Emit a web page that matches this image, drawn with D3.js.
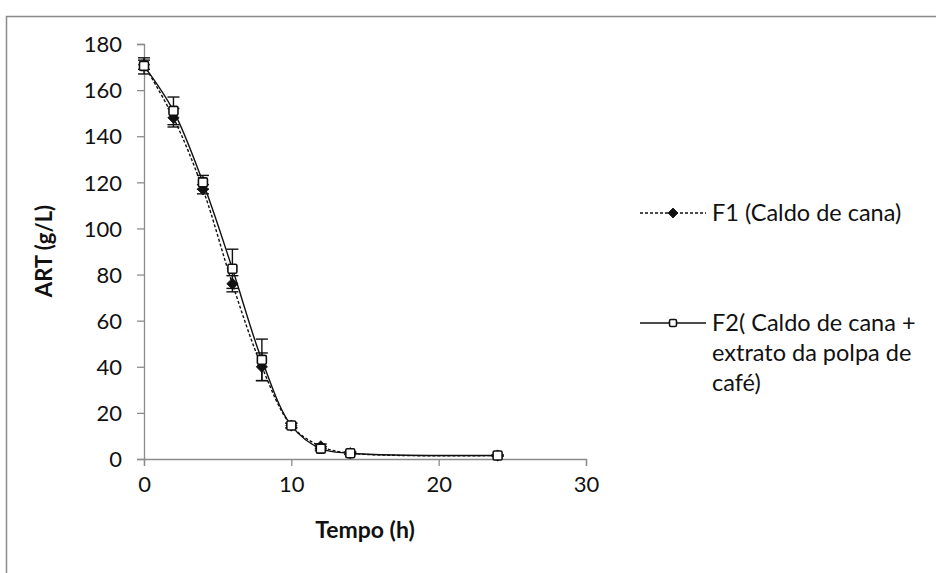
<!DOCTYPE html>
<html>
<head>
<meta charset="utf-8">
<script src="https://cdn.jsdelivr.net/npm/d3@7"></script>
<style>
  html, body { margin: 0; padding: 0; background: #fff; }
  svg { display: block; }
  text { font-family: Lato, "Open Sans", sans-serif; fill: #111; }
</style>
</head>
<body>
<svg id="chart" width="936" height="573"></svg>
<script>
// Time points (h)
const tempo = [0, 2, 4, 6, 8, 10, 12, 14, 24];
// F1: sugarcane juice — ART (g/L) and standard deviation
const f1 = [171, 148, 117, 76, 40, 14.5, 5.5, 2.5, 1.5];
const f1Err = [2, 4, 2, 3.5, 6, 1, 1, 0.5, 0.3];
// F2: sugarcane juice + coffee pulp extract
const f2 = [170.5, 151, 120, 82.5, 43, 14.5, 4.5, 2.5, 1.5];
const f2Err = [3.5, 6, 3, 8.5, 9, 1, 0.8, 0.5, 0.3];

const xTicks = [0, 10, 20, 30];
const yTicks = [0, 20, 40, 60, 80, 100, 120, 140, 160, 180];

const legendF1 = ["F1 (Caldo de cana)"];
const legendF2 = ["F2( Caldo de cana +", "extrato da polpa de", "café)"];
const xTitle = "Tempo (h)";
const yTitle = "ART (g/L)";

const svg = d3.select("#chart");

// outer chart frame
svg.append("rect")
  .attr("x", 6.5).attr("y", 16.5)
  .attr("width", 940).attr("height", 570)
  .attr("fill", "none").attr("stroke", "#8a8a8a").attr("stroke-width", 1.5);

const x = d3.scaleLinear().domain([0, 30]).range([144, 586]);
const y = d3.scaleLinear().domain([0, 180]).range([459, 44]);

const axisColor = "#8c8c8c";

const gx = svg.append("g").attr("transform", `translate(0,${y(0)})`)
  .call(d3.axisBottom(x).tickValues(xTicks).tickSizeOuter(0).tickSize(7).tickPadding(10));
const gy = svg.append("g").attr("transform", `translate(${x(0)},0)`)
  .call(d3.axisLeft(y).tickValues(yTicks).tickSizeOuter(0).tickSize(7).tickPadding(15));

[gx, gy].forEach(g => {
  g.select(".domain").attr("stroke", axisColor).attr("stroke-width", 1.3);
  g.selectAll(".tick line").attr("stroke", axisColor).attr("stroke-width", 1.3);
  g.selectAll(".tick text").attr("font-family", "Lato, sans-serif")
    .attr("font-size", 22).attr("fill", "#111");
});
gy.selectAll(".tick text").attr("dy", "0.35em");

// axis titles
svg.append("text").attr("x", 365).attr("y", 538)
  .attr("text-anchor", "middle").attr("font-weight", "bold").attr("font-size", 23)
  .text(xTitle);
svg.append("text")
  .attr("transform", `translate(52,251) rotate(-90)`)
  .attr("text-anchor", "middle").attr("font-weight", "bold").attr("font-size", 22)
  .text(yTitle);

const series = [
  { vals: f1, err: f1Err, dash: "3,2", marker: "diamond" },
  { vals: f2, err: f2Err, dash: null, marker: "square" }
];

const line = d3.line().curve(d3.curveCatmullRom.alpha(0.5))
  .x(d => x(d[0])).y(d => y(d[1]));

// lines
series.forEach(s => {
  svg.append("path")
    .datum(tempo.map((t, i) => [t, s.vals[i]]))
    .attr("d", line)
    .attr("fill", "none").attr("stroke", "#111").attr("stroke-width", 1.4)
    .attr("stroke-dasharray", s.dash);
});

// error bars
const cap = 6;
series.forEach(s => {
  const g = svg.append("g").attr("stroke", "#111").attr("stroke-width", 1.4);
  tempo.forEach((t, i) => {
    const cx = x(t), hi = y(s.vals[i] + s.err[i]), lo = y(s.vals[i] - s.err[i]);
    g.append("line").attr("x1", cx).attr("x2", cx).attr("y1", hi).attr("y2", lo);
    g.append("line").attr("x1", cx - cap).attr("x2", cx + cap).attr("y1", hi).attr("y2", hi);
    g.append("line").attr("x1", cx - cap).attr("x2", cx + cap).attr("y1", lo).attr("y2", lo);
  });
});

function drawMarker(g, kind, cx, cy, size) {
  if (kind === "diamond") {
    g.append("path")
      .attr("d", d3.symbol(d3.symbolDiamond2).size(size * size)())
      .attr("transform", `translate(${cx},${cy})`)
      .attr("fill", "#111").attr("stroke", "#111").attr("stroke-width", 0.8);
  } else {
    g.append("rect")
      .attr("x", cx - size / 2).attr("y", cy - size / 2)
      .attr("width", size).attr("height", size).attr("rx", 1.5)
      .attr("fill", "#fff").attr("stroke", "#111").attr("stroke-width", 1.6);
  }
}

// markers
series.forEach(s => {
  const g = svg.append("g");
  tempo.forEach((t, i) => drawMarker(g, s.marker, x(t), y(s.vals[i]), 9));
});

// legend
const legX0 = 640, legX1 = 706, legText = 712;
const legRows = [
  { s: series[0], y: 213, lines: legendF1 },
  { s: series[1], y: 323, lines: legendF2 }
];
legRows.forEach(r => {
  svg.append("line").attr("x1", legX0).attr("x2", legX1).attr("y1", r.y).attr("y2", r.y)
    .attr("stroke", "#111").attr("stroke-width", 1.4).attr("stroke-dasharray", r.s.dash);
  drawMarker(svg, r.s.marker, (legX0 + legX1) / 2, r.y, r.s.marker === "square" ? 7 : 8);
  const t = svg.append("text").attr("x", legText).attr("y", r.y).attr("font-size", 23.5);
  r.lines.forEach((ln, k) => {
    t.append("tspan").attr("x", legText).attr("dy", k === 0 ? "0.35em" : 30).text(ln);
  });
});
</script>
</body>
</html>
